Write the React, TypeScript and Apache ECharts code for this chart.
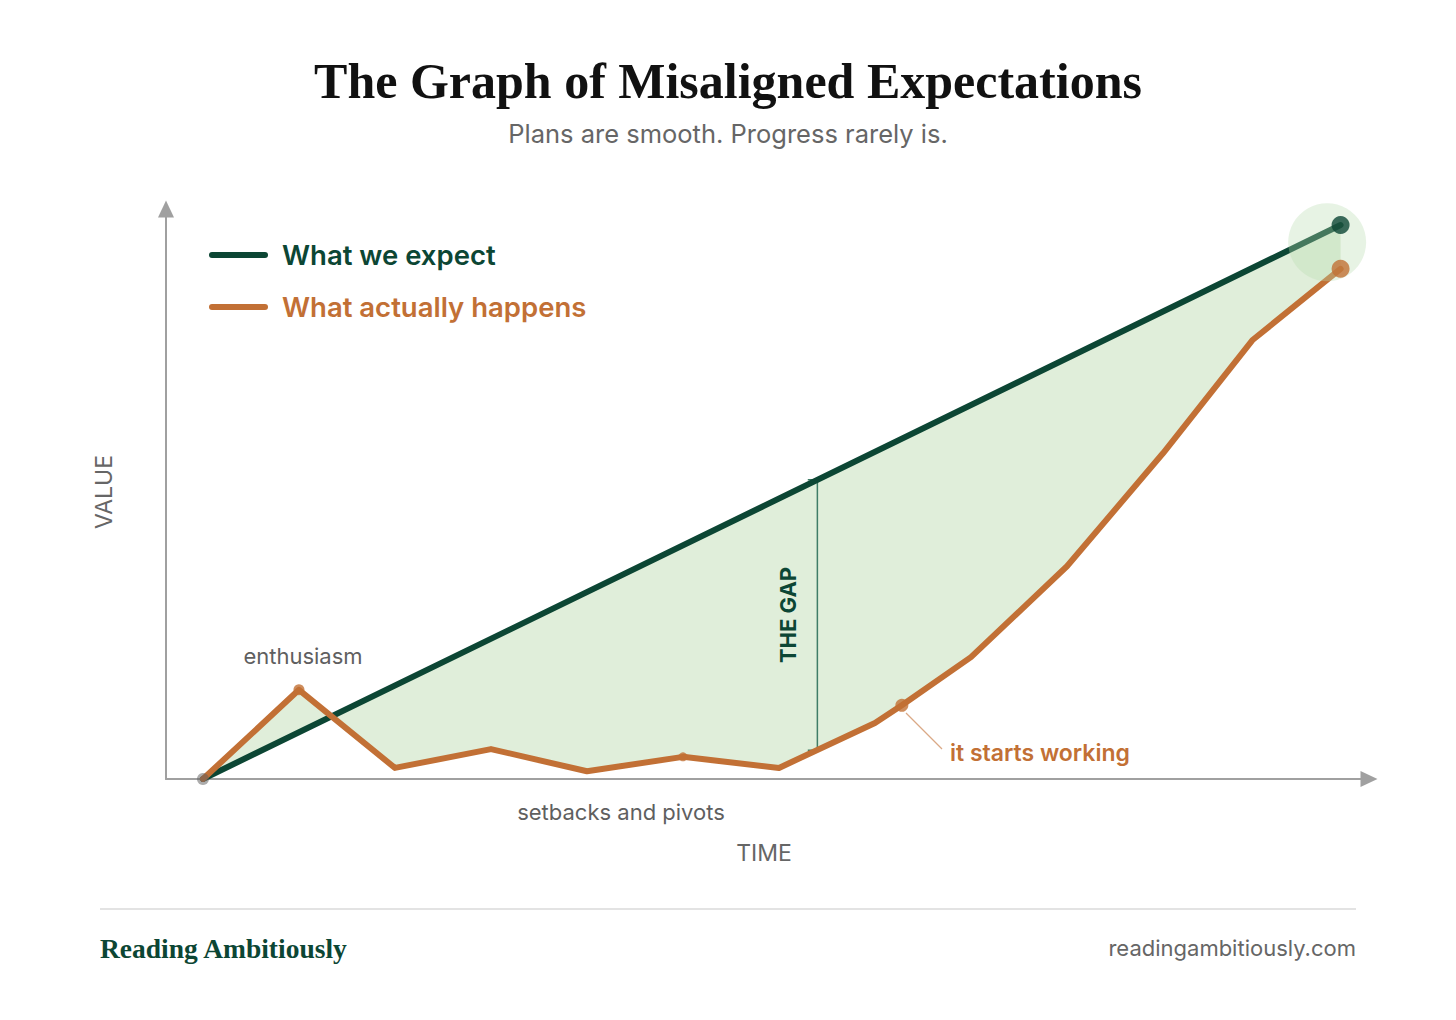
import React, { useEffect, useRef } from "react";
import * as echarts from "echarts";

// ---- data ----
const timeSteps = [0, 1, 2, 3, 4, 5, 6, 7, 7.28, 8, 9, 10, 10.93, 11.85];
const actualValues = [0, 16.1, 2.0, 5.4, 1.4, 4.0, 2.0, 10.1, 13.3, 22.0, 38.4, 58.8, 79.2, 92.1];
const expectedTimes = [0, 11.85];
const expectedValues = [0, 100];
const markerIndices = [1, 5, 8];
const markerSizes = [11, 9, 13];
const gapTime = 6.4;
const gapTop = 54;
const gapBottom = 5.2;
const haloPoint = [11.71, 96.9];

const GREEN = "#0c4634";
const ORANGE = "#c27035";
const FILL = "#e0eeda";
const GRAY = "#5f5f5f";
const SANS = "Inter, 'Noto Sans', sans-serif";
const SERIF = "'Liberation Serif', 'DejaVu Serif', serif";

export default function App() {
  const ref = useRef<HTMLDivElement>(null);
  useEffect(() => {
    if (!ref.current) return;
    const chart = echarts.init(ref.current, null, { renderer: "svg" });
    const actualPts = timeSteps.map((t, i) => [t, actualValues[i]]);
    const expectedPts = expectedTimes.map((t, i) => [t, expectedValues[i]]);
    const capLen = 0.1;
    const gapPts = [
      [gapTime - capLen, gapTop],
      [gapTime, gapTop],
      [gapTime, gapBottom],
      [gapTime - capLen, gapBottom],
    ];
    const lastIdx = actualPts.length - 1;

    const txt = (x: number, y: number, text: string, font: string, fill: string, align: string, rotation = 0) => ({
      type: "text",
      x,
      y,
      z: 100,
      rotation,
      style: { text, font, fill, textAlign: align, textVerticalAlign: "middle" },
    });

    const axisLine = (onZero: boolean) => ({
      show: true,
      onZero,
      symbol: ["none", "triangle"],
      symbolSize: [16, 17],
      lineStyle: { color: "#a0a0a0", width: 2 },
    });

    chart.setOption({
      animation: false,
      grid: { left: 166, right: 87, top: 209, bottom: 241, containLabel: false },
      xAxis: {
        type: "value",
        min: -0.385,
        max: 12.146,
        axisLine: axisLine(true),
        axisTick: { show: false },
        axisLabel: { show: false },
        splitLine: { show: false },
      },
      yAxis: {
        type: "value",
        min: 0,
        max: 102.9,
        axisLine: axisLine(false),
        axisTick: { show: false },
        axisLabel: { show: false },
        splitLine: { show: false },
      },
      series: [
        {
          type: "custom",
          z: 1,
          silent: true,
          data: [[0, 0]],
          renderItem: (params: any, api: any) => {
            const pts = actualPts.map((p) => api.coord(p));
            for (let i = expectedPts.length - 1; i >= 0; i--) pts.push(api.coord(expectedPts[i]));
            return { type: "polygon", shape: { points: pts }, style: { fill: FILL } };
          },
        },
        {
          type: "line",
          z: 2,
          data: gapPts,
          symbol: "none",
          lineStyle: { color: "#3f7d67", width: 1.5 },
          silent: true,
        },
        {
          type: "line",
          z: 3,
          data: expectedPts,
          symbol: "none",
          lineStyle: { color: GREEN, width: 6, cap: "round" },
          silent: true,
        },
        {
          type: "line",
          z: 4,
          data: actualPts,
          symbol: "none",
          lineStyle: { color: ORANGE, width: 6, join: "round", cap: "round" },
          silent: true,
        },
        {
          type: "scatter",
          z: 5,
          data: markerIndices.map((idx, k) => ({ value: actualPts[idx], symbolSize: markerSizes[k] })),
          itemStyle: { color: ORANGE },
          silent: true,
        },
        {
          type: "scatter",
          z: 6,
          data: [haloPoint],
          symbolSize: 78,
          itemStyle: { color: "rgba(185,218,175,0.42)" },
          silent: true,
        },
        {
          type: "scatter",
          z: 7,
          data: [
            { value: expectedPts[expectedPts.length - 1], itemStyle: { color: GREEN } },
            { value: actualPts[lastIdx], itemStyle: { color: ORANGE } },
            { value: actualPts[0], symbolSize: 12, itemStyle: { color: "rgba(95,95,95,0.65)" } },
          ],
          symbolSize: 18,
          silent: true,
        },
      ],
      graphic: [
        txt(728, 81, "The Graph of Misaligned Expectations", `bold 50px ${SERIF}`, "#111", "center"),
        txt(728, 133, "Plans are smooth. Progress rarely is.", `25.5px ${SANS}`, "#666", "center"),
        {
          type: "line",
          z: 100,
          shape: { x1: 212, y1: 255, x2: 265, y2: 255 },
          style: { stroke: GREEN, lineWidth: 6, lineCap: "round" },
        },
        txt(282, 255, "What we expect", `600 27.5px ${SANS}`, GREEN, "left"),
        {
          type: "line",
          z: 100,
          shape: { x1: 212, y1: 307, x2: 265, y2: 307 },
          style: { stroke: ORANGE, lineWidth: 6, lineCap: "round" },
        },
        txt(282, 307, "What actually happens", `600 27.5px ${SANS}`, ORANGE, "left"),
        txt(303, 656, "enthusiasm", `22px ${SANS}`, GRAY, "center"),
        txt(621, 812, "setbacks and pivots", `22px ${SANS}`, GRAY, "center"),
        {
          type: "line",
          z: 100,
          shape: { x1: 906, y1: 713, x2: 942, y2: 749 },
          style: { stroke: "rgba(194,112,53,0.6)", lineWidth: 1.2 },
        },
        txt(950, 753, "it starts working", `600 23px ${SANS}`, ORANGE, "left"),
        txt(788, 615, "THE GAP", `bold 22px ${SANS}`, GREEN, "center", Math.PI / 2),
        txt(764, 853, "TIME", `23px ${SANS}`, "#666", "center"),
        txt(104, 492, "VALUE", `23px ${SANS}`, "#666", "center", Math.PI / 2),
        {
          type: "line",
          z: 100,
          shape: { x1: 100, y1: 909, x2: 1356, y2: 909 },
          style: { stroke: "#e3e3e3", lineWidth: 2 },
        },
        txt(100, 948, "Reading Ambitiously", `bold 27.5px ${SERIF}`, GREEN, "left"),
        txt(1356, 948, "readingambitiously.com", `22px ${SANS}`, "#666", "right"),
      ],
    });
    return () => chart.dispose();
  }, []);
  return (
    <div
      ref={ref}
      style={{ position: "absolute", left: 0, top: 0, width: 1456, height: 1020, background: "#fff" }}
    />
  );
}
